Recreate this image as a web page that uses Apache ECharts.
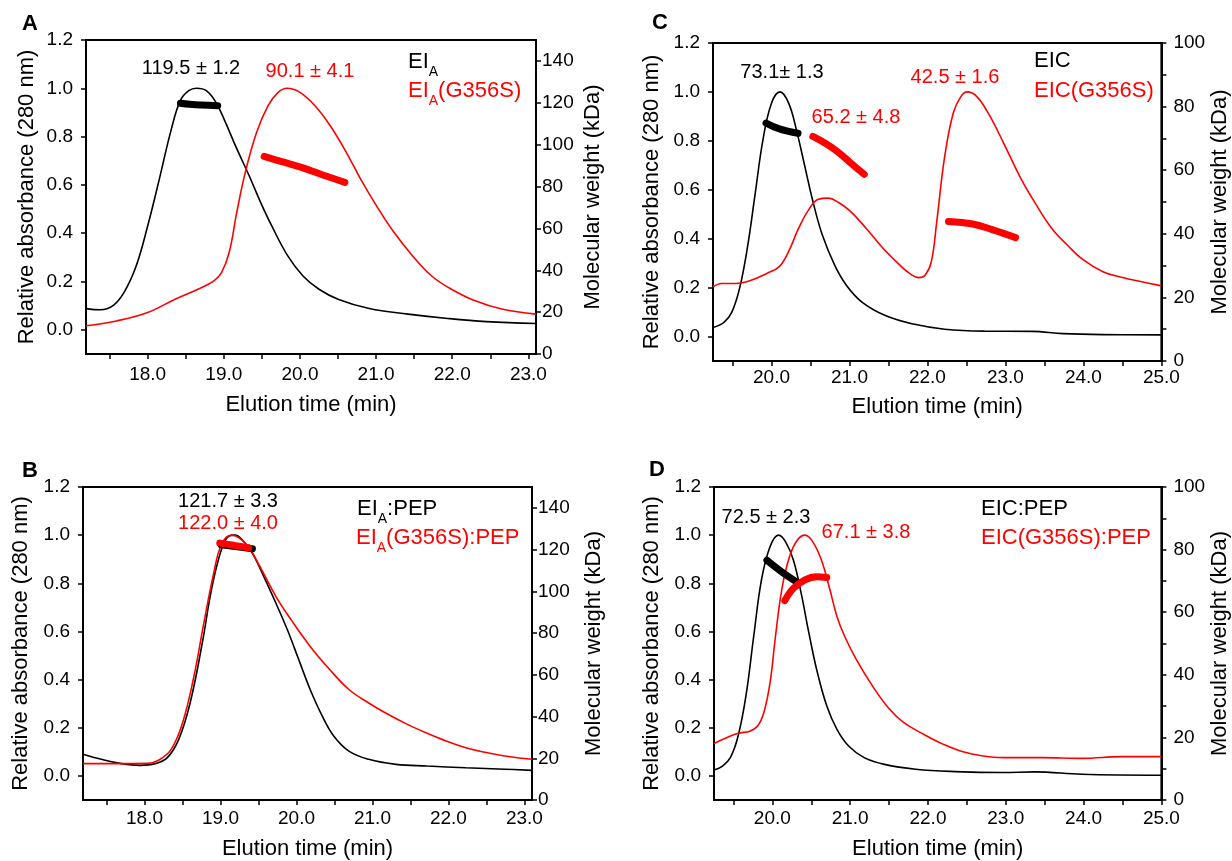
<!DOCTYPE html>
<html><head><meta charset="utf-8">
<script src="https://cdn.jsdelivr.net/npm/echarts@6/dist/echarts.min.js"></script>
<style>html,body{margin:0;padding:0;background:#fff}#c{width:1232px;height:861px}</style>
</head><body><div id="c"></div>
<script>
const FONT = '"Liberation Sans", Arial, Helvetica, sans-serif';
const RED = '#ff0000';

// ---- Panel A: EI_A vs EI_A(G356S) ----
const aBlack = [[17.19,0.088],[17.38,0.083],[17.54,0.099],[17.69,0.155],[17.85,0.265],[18.0,0.43],[18.15,0.62],[18.31,0.83],[18.43,0.95],[18.54,0.99],[18.64,1.0],[18.77,0.99],[18.90,0.94],[19.02,0.86],[19.17,0.75],[19.33,0.64],[19.48,0.53],[19.63,0.43],[19.84,0.306],[20.04,0.223],[20.25,0.168],[20.50,0.127],[20.91,0.088],[21.42,0.065],[21.94,0.047],[22.45,0.034],[23.10,0.026]];
const aRed = [[17.19,0.017],[17.59,0.037],[18.0,0.072],[18.36,0.127],[18.66,0.168],[18.87,0.203],[18.97,0.237],[19.07,0.32],[19.17,0.486],[19.28,0.65],[19.43,0.817],[19.58,0.927],[19.71,0.982],[19.83,1.0],[19.99,0.985],[20.20,0.927],[20.40,0.844],[20.61,0.734],[20.81,0.617],[21.02,0.506],[21.22,0.41],[21.48,0.306],[21.73,0.223],[21.99,0.168],[22.30,0.12],[22.65,0.086],[23.10,0.065]];
const aMwBlack = [[18.43,119.8],[18.55,119.3],[18.70,118.9],[18.92,118.6]];
const aMwRed = [[19.53,94.4],[19.75,92.0],[20.04,88.9],[20.30,85.5],[20.59,82.0]];

// ---- Panel B: EI_A:PEP vs EI_A(G356S):PEP ----
const bBlack = [[17.19,0.09],[17.43,0.069],[17.68,0.052],[17.94,0.044],[18.14,0.051],[18.30,0.076],[18.45,0.152],[18.60,0.303],[18.76,0.552],[18.88,0.772],[19.01,0.938],[19.11,0.996],[19.19,1.0],[19.29,0.979],[19.42,0.924],[19.57,0.828],[19.73,0.717],[19.88,0.607],[20.03,0.483],[20.18,0.359],[20.34,0.248],[20.49,0.166],[20.69,0.103],[20.95,0.069],[21.31,0.048],[21.72,0.041],[22.23,0.034],[22.74,0.028],[23.10,0.023]];
const bRed = [[17.19,0.051],[17.63,0.051],[18.04,0.052],[18.19,0.066],[18.35,0.11],[18.50,0.22],[18.65,0.414],[18.78,0.634],[18.91,0.841],[19.01,0.959],[19.14,1.0],[19.24,0.99],[19.37,0.952],[19.52,0.869],[19.73,0.745],[19.93,0.648],[20.18,0.538],[20.44,0.441],[20.69,0.359],[20.95,0.303],[21.21,0.255],[21.46,0.214],[21.72,0.177],[21.97,0.145],[22.23,0.117],[22.48,0.098],[22.74,0.083],[23.10,0.069]];
const bMwBlack = [[19.01,122.3],[19.20,121.5],[19.42,120.4]];
const bMwRed = [[18.99,123.1],[19.15,122.2],[19.37,120.9]];

// ---- Panel C: EIC vs EIC(G356S) ----
const cBlack = [[19.25,0.037],[19.39,0.058],[19.49,0.099],[19.59,0.196],[19.69,0.361],[19.79,0.582],[19.89,0.803],[20.0,0.954],[20.11,1.0],[20.22,0.954],[20.32,0.844],[20.43,0.692],[20.53,0.554],[20.65,0.417],[20.81,0.292],[20.96,0.21],[21.16,0.141],[21.46,0.086],[21.82,0.051],[22.22,0.030],[22.73,0.022],[23.34,0.021],[23.74,0.012],[24.25,0.008],[25.0,0.007]];
const cRed = [[19.25,0.203],[19.36,0.217],[19.54,0.217],[19.74,0.23],[19.94,0.258],[20.10,0.286],[20.22,0.348],[20.35,0.444],[20.48,0.52],[20.60,0.561],[20.73,0.566],[20.86,0.548],[21.01,0.513],[21.21,0.444],[21.41,0.368],[21.62,0.3],[21.77,0.258],[21.89,0.241],[21.97,0.251],[22.05,0.306],[22.12,0.472],[22.22,0.734],[22.33,0.913],[22.43,0.982],[22.51,1.0],[22.63,0.982],[22.78,0.913],[22.98,0.789],[23.19,0.651],[23.39,0.541],[23.59,0.444],[23.79,0.375],[24.0,0.313],[24.25,0.265],[24.5,0.241],[24.76,0.223],[25.0,0.207]];
const cMwBlack = [[19.93,74.8],[20.10,73.0],[20.34,71.6]];
const cMwRed1 = [[20.53,70.6],[20.70,68.3],[20.86,65.6],[21.01,62.4],[21.19,58.7]];
const cMwRed2 = [[22.27,43.9],[22.58,43.1],[22.83,41.3],[23.13,38.8]];

// ---- Panel D: EIC:PEP vs EIC(G356S):PEP ----
const dBlack = [[19.25,0.025],[19.36,0.041],[19.46,0.076],[19.56,0.166],[19.66,0.331],[19.76,0.579],[19.86,0.814],[19.97,0.952],[20.08,1.0],[20.17,0.972],[20.27,0.897],[20.37,0.759],[20.47,0.593],[20.57,0.441],[20.70,0.29],[20.83,0.193],[20.98,0.124],[21.18,0.076],[21.44,0.048],[21.84,0.028],[22.35,0.018],[22.96,0.014],[23.37,0.017],[23.98,0.007],[25.0,0.003]];
const dRed = [[19.25,0.135],[19.41,0.159],[19.56,0.177],[19.71,0.186],[19.81,0.207],[19.89,0.262],[19.97,0.386],[20.04,0.579],[20.12,0.772],[20.22,0.91],[20.32,0.979],[20.42,1.0],[20.52,0.972],[20.63,0.897],[20.73,0.786],[20.83,0.662],[20.93,0.579],[21.08,0.483],[21.29,0.372],[21.49,0.283],[21.69,0.221],[21.95,0.172],[22.20,0.131],[22.45,0.1],[22.71,0.083],[22.96,0.076],[23.47,0.076],[23.98,0.073],[24.49,0.08],[25.0,0.08]];
const dMwBlack = [[19.93,76.6],[20.12,72.9],[20.31,69.7]];
const dMwRed = [[20.16,63.7],[20.27,67.6],[20.42,70.3],[20.57,71.3],[20.70,71.1]];

// ---- ticks / labels ----
const absTicks = [0,0.2,0.4,0.6,0.8,1.0,1.2];
const mwTicksAB = [0,20,40,60,80,100,120,140];
const mwTicksCD = [0,10,20,30,40,50,60,70,80,90,100];
const mwLabelsCD = [0,20,40,60,80,100];
const xTicksAB = [17.5,18,18.5,19,19.5,20,20.5,21,21.5,22,22.5,23];
const xLabelsAB = [18,19,20,21,22,23];
const xTicksCD = [19.5,20,20.5,21,21.5,22,22.5,23,23.5,24,24.5,25];
const xLabelsCD = [20,21,22,23,24,25];

// ---- texts ----
const annotations = [
  {t:'119.5 ± 1.2', x:191, y:68, c:'#000'},
  {t:'90.1 ± 4.1', x:310, y:71, c:RED},
  {t:'73.1± 1.3', x:782, y:72, c:'#000'},
  {t:'65.2 ± 4.8', x:856, y:117, c:RED},
  {t:'42.5 ± 1.6', x:955, y:77, c:RED},
  {t:'121.7 ± 3.3', x:228, y:501, c:'#000'},
  {t:'122.0 ± 4.0', x:228, y:523, c:RED},
  {t:'72.5 ± 2.3', x:766, y:517, c:'#000'},
  {t:'67.1 ± 3.8', x:866, y:532, c:RED}
];
const legends = [
  {t:'{n|EI}{s|A}', x:408, y:62, c:'#000'},
  {t:'{n|EI}{s|A}{n|(G356S)}', x:408, y:91, c:RED},
  {t:'{n|EIC}', x:1034, y:61, c:'#000'},
  {t:'{n|EIC(G356S)}', x:1034, y:91, c:RED},
  {t:'{n|EI}{s|A}{n|:PEP}', x:357, y:509, c:'#000'},
  {t:'{n|EI}{s|A}{n|(G356S):PEP}', x:356, y:538, c:RED},
  {t:'{n|EIC:PEP}', x:981, y:509, c:'#000'},
  {t:'{n|EIC(G356S):PEP}', x:981, y:538, c:RED}
];
const letters = [{t:'A',x:30,y:24},{t:'C',x:660,y:23},{t:'B',x:30,y:471},{t:'D',x:657,y:470}];

const panels = [
  {grid:{left:86, top:40, width:450, height:314}, xr:[17.19,23.1], xt:xTicksAB, xl:xLabelsAB, mwMax:150, mwT:mwTicksAB, mwL:mwTicksAB,
   xm:11, xg:40, yg:48, rg:46, rm:6, black:aBlack, red:aRed, mw:[[aMwBlack,'#000'],[aMwRed,RED]]},
  {grid:{left:83, top:487, width:449, height:314}, xr:[17.19,23.1], xt:xTicksAB, xl:xLabelsAB, mwMax:150, mwT:mwTicksAB, mwL:mwTicksAB,
   xm:9, xg:38, yg:51, rg:51, rm:6, black:bBlack, red:bRed, mw:[[bMwBlack,'#000'],[bMwRed,RED]]},
  {grid:{left:713, top:43, width:450, height:318}, xr:[19.25,25.0], xt:xTicksCD, xl:xLabelsCD, mwMax:100, mwT:mwTicksCD, mwL:mwLabelsCD,
   xm:7, xg:35, yg:50, rg:45, rm:12, black:cBlack, red:cRed, mw:[[cMwBlack,'#000'],[cMwRed1,RED],[cMwRed2,RED]]},
  {grid:{left:714, top:487, width:449, height:314}, xr:[19.25,25.0], xt:xTicksCD, xl:xLabelsCD, mwMax:100, mwT:mwTicksCD, mwL:mwLabelsCD,
   xm:9, xg:38, yg:51, rg:42, rm:12, black:dBlack, red:dRed, mw:[[dMwBlack,'#000'],[dMwRed,RED]]}
];

const axisLine = {show:true, onZero:false, lineStyle:{color:'#000', width:2}};
const tickStyle = {color:'#000', width:1.5};
const labelBase = {color:'#000', fontSize:19, fontFamily:FONT};
const nameStyle = {color:'#000', fontSize:22, fontFamily:FONT};

const grids = [], xAxes = [], yAxes = [], series = [];
panels.forEach((p, i) => {
  grids.push(Object.assign({show:true, borderColor:'#000', borderWidth:2, containLabel:false}, p.grid));
  xAxes.push({type:'value', gridIndex:i, min:p.xr[0], max:p.xr[1],
    axisLine, splitLine:{show:false},
    axisTick:{show:true, length:5, lineStyle:tickStyle, customValues:p.xt},
    axisLabel:Object.assign({customValues:p.xl, margin:p.xm, formatter:v=>v.toFixed(1)}, labelBase),
    name:'Elution time (min)', nameLocation:'middle', nameGap:p.xg, nameTextStyle:nameStyle});
  yAxes.push({type:'value', gridIndex:i, position:'left', min:-0.1, max:1.2,
    axisLine, splitLine:{show:false},
    axisTick:{show:true, length:5, lineStyle:tickStyle, customValues:absTicks},
    axisLabel:Object.assign({customValues:absTicks, margin:13, formatter:v=>v.toFixed(1)}, labelBase),
    name:'Relative absorbance (280 nm)', nameLocation:'middle', nameGap:p.yg, nameRotate:90, nameTextStyle:nameStyle});
  yAxes.push({type:'value', gridIndex:i, position:'right', min:0, max:p.mwMax,
    axisLine, splitLine:{show:false},
    axisTick:{show:true, length:5, lineStyle:tickStyle, customValues:p.mwT},
    axisLabel:Object.assign({customValues:p.mwL, margin:p.rm, formatter:v=>String(v)}, labelBase),
    name:'Molecular weight (kDa)', nameLocation:'middle', nameGap:p.rg, nameRotate:90, nameTextStyle:nameStyle});
  const base = {type:'line', xAxisIndex:i, showSymbol:false, symbol:'none', smooth:0.4, silent:true, animation:false};
  series.push(Object.assign({}, base, {yAxisIndex:2*i, data:p.black, lineStyle:{color:'#000', width:1.6}, z:2}));
  series.push(Object.assign({}, base, {yAxisIndex:2*i, data:p.red, lineStyle:{color:RED, width:1.6}, z:3}));
  p.mw.forEach(([d, c], k) => {
    series.push(Object.assign({}, base, {yAxisIndex:2*i+1, data:d, smooth:0.4,
      lineStyle:{color:c, width:7, cap:'round', join:'round'}, z:4+k}));
  });
});

const graphics = [];
annotations.forEach(a => graphics.push({type:'text', x:a.x, y:a.y, silent:true,
  style:{text:a.t, fill:a.c, font:'20px '+FONT, align:'center', textAlign:'center', verticalAlign:'middle', textVerticalAlign:'middle'}}));
legends.forEach(l => graphics.push({type:'text', x:l.x, y:l.y, silent:true,
  style:{text:l.t, fill:l.c, font:'22px '+FONT, align:'left', textAlign:'left', verticalAlign:'middle', textVerticalAlign:'middle',
    rich:{n:{fontSize:22, fontFamily:FONT, fill:l.c}, s:{fontSize:14, fontFamily:FONT, fill:l.c, padding:[20,0,0,0]}}}}));
letters.forEach(l => graphics.push({type:'text', x:l.x, y:l.y, silent:true,
  style:{text:l.t, fill:'#000', font:'bold 22px '+FONT, align:'center', textAlign:'center', verticalAlign:'middle', textVerticalAlign:'middle'}}));

const chart = echarts.init(document.getElementById('c'), null, {renderer:'canvas'});
chart.setOption({
  backgroundColor:'#fff', animation:false,
  textStyle:{fontFamily:FONT},
  grid:grids, xAxis:xAxes, yAxis:yAxes, series, graphic:graphics
});
</script></body></html>
